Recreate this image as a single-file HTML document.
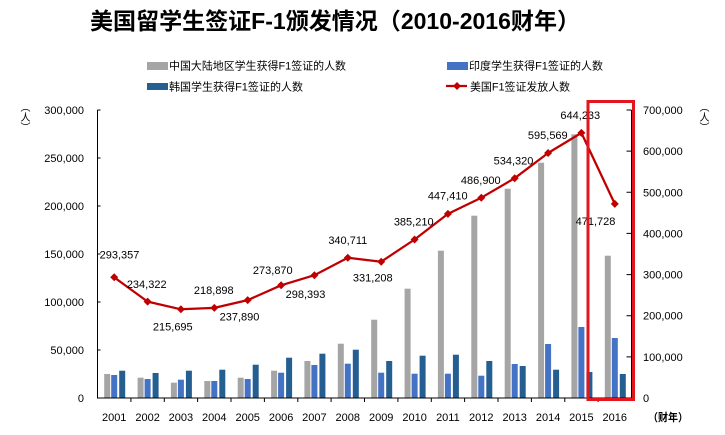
<!DOCTYPE html>
<html><head><meta charset="utf-8"><style>
html,body{margin:0;padding:0;background:#fff;}
body{position:relative;width:725px;height:435px;overflow:hidden;}
svg{display:block;}
text{font-family:"Liberation Sans","Noto Sans CJK SC",sans-serif;fill:#000;}
.vt{position:absolute;writing-mode:vertical-rl;text-orientation:upright;font-family:"Noto Sans CJK SC",sans-serif;font-size:10px;line-height:11px;color:#000;}
</style></head><body>
<svg width="725" height="435" viewBox="0 0 725 435" xmlns="http://www.w3.org/2000/svg">
<rect width="725" height="435" fill="#fff"/>
<!-- Title -->
<text x="90" y="29" font-size="23" font-weight="bold" textLength="490" lengthAdjust="spacingAndGlyphs">美国留学生签证F-1颁发情况（2010-2016财年）</text>
<!-- Legend -->
<rect x="147" y="62" width="21" height="8" fill="#A5A5A5"/>
<text x="169" y="69.5" font-size="11" textLength="177" lengthAdjust="spacingAndGlyphs">中国大陆地区学生获得F1签证的人数</text>
<rect x="147" y="83" width="21" height="7" fill="#255E91"/>
<text x="169" y="90.5" font-size="11" textLength="134" lengthAdjust="spacingAndGlyphs">韩国学生获得F1签证的人数</text>
<rect x="447" y="62" width="21" height="8" fill="#4472C4"/>
<text x="469" y="69.5" font-size="11" textLength="134" lengthAdjust="spacingAndGlyphs">印度学生获得F1签证的人数</text>
<line x1="446" y1="86" x2="467" y2="86" stroke="#C00000" stroke-width="2.25"/>
<path d="M457,82 L461,86 L457,90 L453,86 Z" fill="#C00000"/>
<text x="470" y="90.5" font-size="11" textLength="100" lengthAdjust="spacingAndGlyphs">美国F1签证发放人数</text>

<!-- Left axis labels -->
<g font-size="11" text-anchor="end">
<text x="84" y="402">0</text>
<text x="84" y="354">50,000</text>
<text x="84" y="306">100,000</text>
<text x="84" y="258">150,000</text>
<text x="84" y="210">200,000</text>
<text x="84" y="162">250,000</text>
<text x="84" y="114">300,000</text>
</g>
<!-- Right axis labels -->
<g font-size="11">
<text x="643" y="402">0</text>
<text x="643" y="360.9">100,000</text>
<text x="643" y="319.7">200,000</text>
<text x="643" y="278.6">300,000</text>
<text x="643" y="237.4">400,000</text>
<text x="643" y="196.3">500,000</text>
<text x="643" y="155.1">600,000</text>
<text x="643" y="114">700,000</text>
</g>
<text x="648" y="421" font-size="11" font-weight="bold" textLength="40" lengthAdjust="spacingAndGlyphs">（财年）</text>

<!-- Bars -->
<g>
<g fill="#A5A5A5">
<rect x="104.2" y="374" width="6" height="24"/>
<rect x="137.6" y="377.7" width="6" height="20.3"/>
<rect x="170.9" y="382.7" width="6" height="15.3"/>
<rect x="204.3" y="381" width="6" height="17"/>
<rect x="237.7" y="377.7" width="6" height="20.3"/>
<rect x="271.1" y="370.7" width="6" height="27.3"/>
<rect x="304.4" y="361" width="6" height="37"/>
<rect x="337.8" y="343.7" width="6" height="54.3"/>
<rect x="371.2" y="319.7" width="6" height="78.3"/>
<rect x="404.6" y="288.7" width="6" height="109.3"/>
<rect x="437.9" y="250.7" width="6" height="147.3"/>
<rect x="471.3" y="215.7" width="6" height="182.3"/>
<rect x="504.7" y="188.7" width="6" height="209.3"/>
<rect x="538.1" y="162.7" width="6" height="235.3"/>
<rect x="571.4" y="134.3" width="6" height="263.7"/>
<rect x="604.8" y="255.7" width="6" height="142.3"/>
</g>
<g fill="#4472C4">
<rect x="111.2" y="375" width="6" height="23"/>
<rect x="144.6" y="379" width="6" height="19"/>
<rect x="177.9" y="379.7" width="6" height="18.3"/>
<rect x="211.3" y="381" width="6" height="17"/>
<rect x="244.7" y="379" width="6" height="19"/>
<rect x="278.1" y="372.7" width="6" height="25.3"/>
<rect x="311.4" y="365" width="6" height="33"/>
<rect x="344.8" y="363.7" width="6" height="34.3"/>
<rect x="378.2" y="372.7" width="6" height="25.3"/>
<rect x="411.6" y="373.7" width="6" height="24.3"/>
<rect x="444.9" y="373.7" width="6" height="24.3"/>
<rect x="478.3" y="375.7" width="6" height="22.3"/>
<rect x="511.7" y="364" width="6" height="34"/>
<rect x="545.1" y="344" width="6" height="54"/>
<rect x="578.4" y="327" width="6" height="71"/>
<rect x="611.8" y="338" width="6" height="60"/>
</g>
<g fill="#255E91">
<rect x="119.2" y="370.7" width="6" height="27.3"/>
<rect x="152.6" y="373" width="6" height="25"/>
<rect x="185.9" y="370.7" width="6" height="27.3"/>
<rect x="219.3" y="369.7" width="6" height="28.3"/>
<rect x="252.7" y="364.7" width="6" height="33.3"/>
<rect x="286.1" y="357.7" width="6" height="40.3"/>
<rect x="319.4" y="353.7" width="6" height="44.3"/>
<rect x="352.8" y="349.7" width="6" height="48.3"/>
<rect x="386.2" y="361" width="6" height="37"/>
<rect x="419.6" y="355.7" width="6" height="42.3"/>
<rect x="452.9" y="354.7" width="6" height="43.3"/>
<rect x="486.3" y="361" width="6" height="37"/>
<rect x="519.7" y="366" width="6" height="32"/>
<rect x="553.1" y="369.7" width="6" height="28.3"/>
<rect x="586.4" y="372" width="6" height="26"/>
<rect x="619.8" y="374" width="6" height="24"/>
</g>
</g>

<!-- Axes -->
<g stroke="#000" stroke-width="1" fill="none">
<line x1="97.5" y1="110" x2="97.5" y2="398.5"/>
<line x1="631.5" y1="110" x2="631.5" y2="398.5"/>
<line x1="97.5" y1="398" x2="631.5" y2="398"/>
<path d="M97.5,110h3M97.5,158h3M97.5,206h3M97.5,254h3M97.5,302h3M97.5,350h3"/>
<path d="M631.5,110h-5M631.5,151.1h-5M631.5,192.3h-5M631.5,233.4h-5M631.5,274.6h-5M631.5,315.7h-5M631.5,356.9h-5"/>
<path d="M130.9,398v4M164.3,398v4M197.6,398v4M231,398v4M264.4,398v4M297.8,398v4M331.1,398v4M364.5,398v4M397.9,398v4M431.3,398v4M464.6,398v4M498,398v4M531.4,398v4M564.8,398v4M598.1,398v4"/>
</g>

<!-- Year labels -->
<g font-size="11" text-anchor="middle">
<text x="114.2" y="421">2001</text>
<text x="147.6" y="421">2002</text>
<text x="180.9" y="421">2003</text>
<text x="214.3" y="421">2004</text>
<text x="247.7" y="421">2005</text>
<text x="281.1" y="421">2006</text>
<text x="314.4" y="421">2007</text>
<text x="347.8" y="421">2008</text>
<text x="381.2" y="421">2009</text>
<text x="414.6" y="421">2010</text>
<text x="447.9" y="421">2011</text>
<text x="481.3" y="421">2012</text>
<text x="514.7" y="421">2013</text>
<text x="548.1" y="421">2014</text>
<text x="581.4" y="421">2015</text>
<text x="614.8" y="421">2016</text>
</g>

<!-- Line series -->
<polyline fill="none" stroke="#C00000" stroke-width="2.25" stroke-linejoin="round" points="114.2,277.3 147.6,301.6 180.9,309.3 214.3,307.9 247.7,300.1 281.1,285.3 314.4,275.2 347.8,257.8 381.2,261.7 414.6,239.5 447.9,213.9 481.3,197.7 514.7,178.2 548.1,153 581.4,132.9 614.8,203.9"/>
<g fill="#C00000">
<path d="M114.2,273.3l4,4l-4,4l-4,-4z"/>
<path d="M147.6,297.6l4,4l-4,4l-4,-4z"/>
<path d="M180.9,305.3l4,4l-4,4l-4,-4z"/>
<path d="M214.3,303.9l4,4l-4,4l-4,-4z"/>
<path d="M247.7,296.1l4,4l-4,4l-4,-4z"/>
<path d="M281.1,281.3l4,4l-4,4l-4,-4z"/>
<path d="M314.4,271.2l4,4l-4,4l-4,-4z"/>
<path d="M347.8,253.8l4,4l-4,4l-4,-4z"/>
<path d="M381.2,257.7l4,4l-4,4l-4,-4z"/>
<path d="M414.6,235.5l4,4l-4,4l-4,-4z"/>
<path d="M447.9,209.9l4,4l-4,4l-4,-4z"/>
<path d="M481.3,193.7l4,4l-4,4l-4,-4z"/>
<path d="M514.7,174.2l4,4l-4,4l-4,-4z"/>
<path d="M548.1,149l4,4l-4,4l-4,-4z"/>
<path d="M581.4,128.9l4,4l-4,4l-4,-4z"/>
<path d="M614.8,199.9l4,4l-4,4l-4,-4z"/>
</g>

<!-- Data labels -->
<g font-size="11" text-anchor="middle">
<text x="119.5" y="258.3">293,357</text>
<text x="146.7" y="288">234,322</text>
<text x="172.8" y="330.7">215,695</text>
<text x="213.8" y="294">218,898</text>
<text x="239.5" y="320.7">237,890</text>
<text x="272.8" y="274">273,870</text>
<text x="305.5" y="298">298,393</text>
<text x="347.8" y="244">340,711</text>
<text x="372.8" y="281.3">331,208</text>
<text x="413.7" y="225.7">385,210</text>
<text x="447.7" y="199.5">447,410</text>
<text x="480.8" y="184">486,900</text>
<text x="513.5" y="164.5">534,320</text>
<text x="547.8" y="139">595,569</text>
<text x="580.3" y="119">644,233</text>
<text x="595.5" y="225">471,728</text>
</g>

<!-- Highlight box -->
<rect x="588" y="101.5" width="45.5" height="298" fill="none" stroke="#E3161D" stroke-width="3"/>
</svg>
<div class="vt" style="left:20px;top:102px;">（人）</div>
<div class="vt" style="left:699px;top:102px;">（人）</div>
</body></html>
